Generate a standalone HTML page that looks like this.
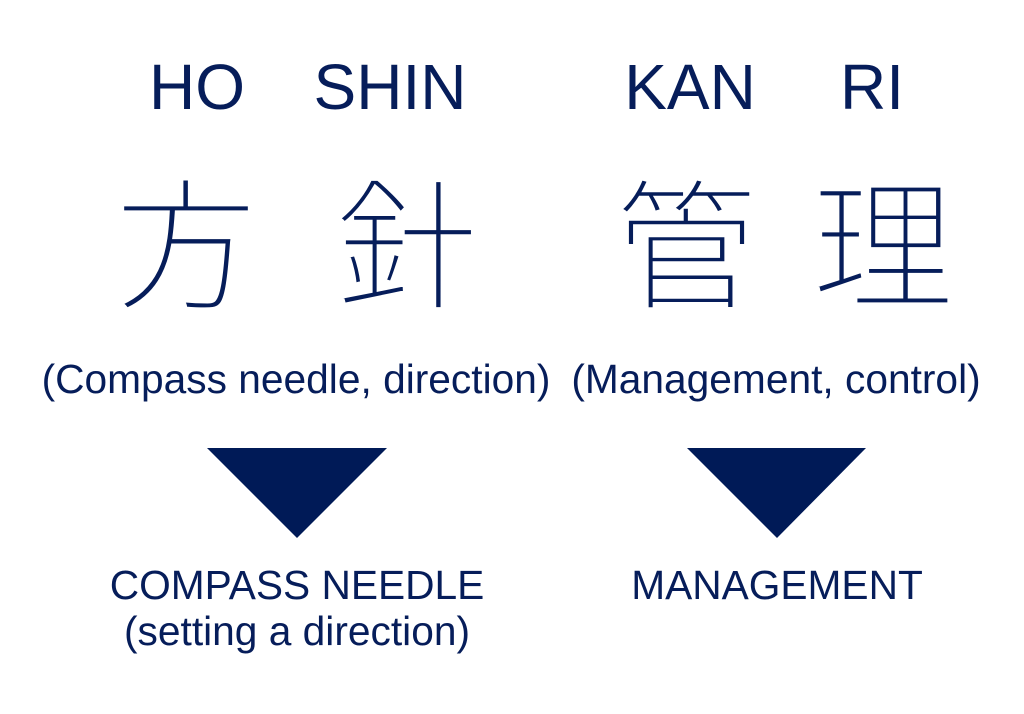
<!DOCTYPE html>
<html><head><meta charset="utf-8"><style>
html,body{margin:0;padding:0;background:#fff}
body{width:1024px;height:714px;position:relative;overflow:hidden;color:#061d5a;font-family:"Liberation Sans",Arial,sans-serif}
.t{position:absolute;white-space:nowrap;transform:translateX(-50%);line-height:1}
.k{font-family:"Noto Sans CJK JP","Noto Sans CJK SC",sans-serif;font-weight:200;font-size:142px;-webkit-text-stroke:2.5px #fff;paint-order:normal}
</style></head><body>
<div class="t" style="left:197px;top:55px;font-size:64px">HO</div>
<div class="t" style="left:390px;top:55px;font-size:64px">SHIN</div>
<div class="t" style="left:690px;top:55px;font-size:64px">KAN</div>
<div class="t" style="left:872px;top:55px;font-size:64px">RI</div>
<div class="t k" style="left:186px;top:165px">方</div>
<div class="t k" style="left:407px;top:165px">針</div>
<div class="t k" style="left:686px;top:165px">管</div>
<div class="t k" style="left:883px;top:165px">理</div>
<div class="t" style="left:296px;top:359px;font-size:40.7px">(Compass needle, direction)</div>
<div class="t" style="left:776px;top:359px;font-size:40.7px">(Management, control)</div>
<svg style="position:absolute;left:0;top:0" width="1024" height="714">
<polygon points="207,448 387,448 297,538" fill="#001a57"/>
<polygon points="687,448 866,448 777,538" fill="#001a57"/>
</svg>
<div class="t" style="left:297px;top:565px;font-size:40.7px">COMPASS NEEDLE</div>
<div class="t" style="left:297px;top:611px;font-size:40.7px">(setting a direction)</div>
<div class="t" style="left:777px;top:565px;font-size:40.7px">MANAGEMENT</div>
</body></html>
